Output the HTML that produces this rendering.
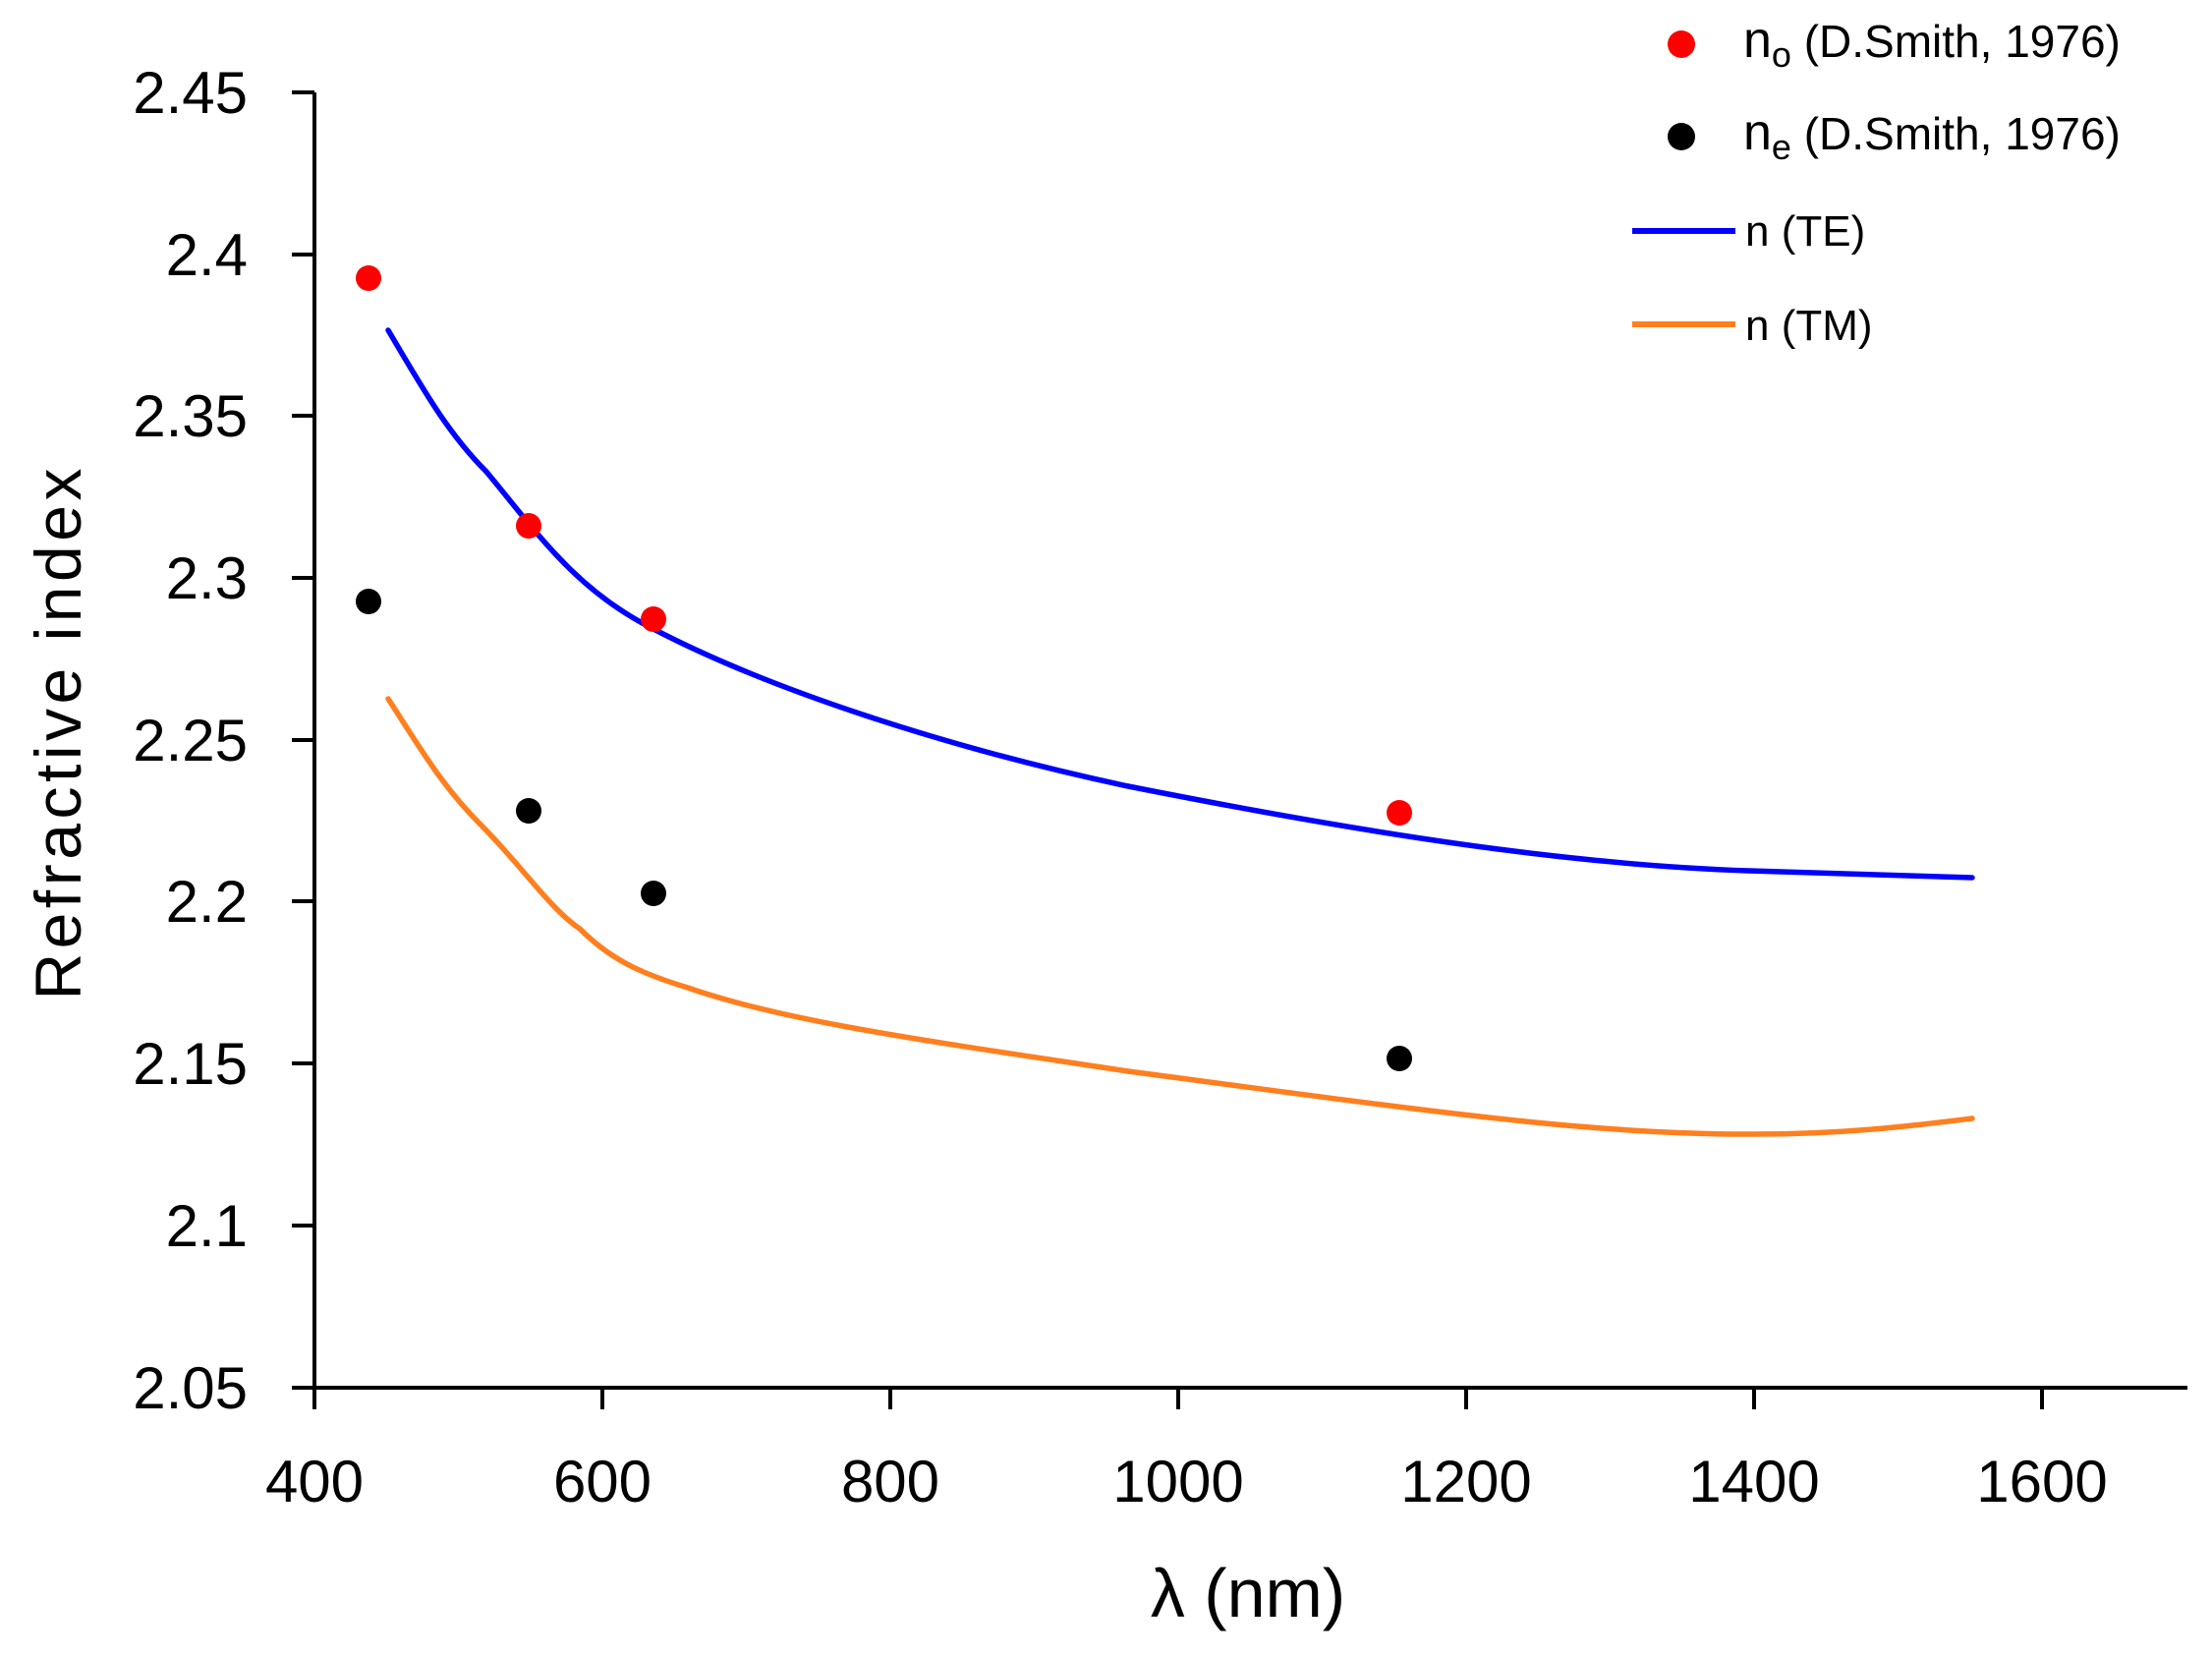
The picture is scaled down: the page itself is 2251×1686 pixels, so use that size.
<!DOCTYPE html>
<html><head><meta charset="utf-8"><style>html,body{margin:0;padding:0;background:#fff}</style></head>
<body>
<svg width="2251" height="1681" viewBox="0 0 2251 1681" xmlns="http://www.w3.org/2000/svg" font-family="'Liberation Sans', sans-serif">
<g stroke="#000" stroke-width="4" fill="none">
<line x1="320" y1="94" x2="320" y2="1412"/>
<line x1="318" y1="1412" x2="2226" y2="1412"/>
<line x1="297" y1="94" x2="320" y2="94"/>
<line x1="297" y1="259" x2="320" y2="259"/>
<line x1="297" y1="423" x2="320" y2="423"/>
<line x1="297" y1="588" x2="320" y2="588"/>
<line x1="297" y1="753" x2="320" y2="753"/>
<line x1="297" y1="917" x2="320" y2="917"/>
<line x1="297" y1="1082" x2="320" y2="1082"/>
<line x1="297" y1="1247" x2="320" y2="1247"/>
<line x1="297" y1="1412" x2="320" y2="1412"/>
<line x1="320" y1="1412" x2="320" y2="1434"/>
<line x1="613" y1="1412" x2="613" y2="1434"/>
<line x1="906" y1="1412" x2="906" y2="1434"/>
<line x1="1199" y1="1412" x2="1199" y2="1434"/>
<line x1="1492" y1="1412" x2="1492" y2="1434"/>
<line x1="1785" y1="1412" x2="1785" y2="1434"/>
<line x1="2078" y1="1412" x2="2078" y2="1434"/>
</g>
<g font-size="60" text-anchor="end" fill="#000">
<text x="252" y="115">2.45</text>
<text x="252" y="280">2.4</text>
<text x="252" y="444">2.35</text>
<text x="252" y="609">2.3</text>
<text x="252" y="774">2.25</text>
<text x="252" y="938">2.2</text>
<text x="252" y="1103">2.15</text>
<text x="252" y="1268">2.1</text>
<text x="252" y="1433">2.05</text>
</g>
<g font-size="60" text-anchor="middle" fill="#000">
<text x="320" y="1528">400</text>
<text x="613" y="1528">600</text>
<text x="906" y="1528">800</text>
<text x="1199" y="1528">1000</text>
<text x="1492" y="1528">1200</text>
<text x="1785" y="1528">1400</text>
<text x="2078" y="1528">1600</text>
</g>
<text x="1270" y="1645" font-size="70" text-anchor="middle">λ (nm)</text>
<text transform="translate(82,747) rotate(-90)" font-size="66" text-anchor="middle" textLength="541">Refractive index</text>
<path fill="none" stroke="#0000ff" stroke-width="5.5" stroke-linecap="round" d="M395,336 C430,395 455,440 495,480 C545,540 585,600 665,640 C780,700 960,760 1148,800 C1400,850 1600,880 1780,886 C1900,890 1960,892 2007,893"/>
<path fill="none" stroke="#ff7f1e" stroke-width="5.5" stroke-linecap="round" d="M395,711 C430,765 450,800 490,840 C530,880 560,925 590,945 C620,975 650,990 700,1005 C800,1040 950,1060 1148,1090 C1450,1130 1620,1155 1785,1154 C1880,1154 1950,1145 2007,1138"/>
<g fill="#ff0000">
<circle cx="375" cy="283" r="13"/><circle cx="538" cy="535" r="13"/><circle cx="665" cy="630" r="13"/><circle cx="1424" cy="827" r="13"/>
</g>
<g fill="#000">
<circle cx="375" cy="612" r="13"/><circle cx="538" cy="825" r="13"/><circle cx="665" cy="909" r="13"/><circle cx="1424" cy="1077" r="13"/>
</g>
<circle cx="1711" cy="45" r="14" fill="#ff0000"/>
<circle cx="1711" cy="139" r="14" fill="#000"/>
<line x1="1661" y1="235" x2="1766" y2="235" stroke="#0000ff" stroke-width="6"/>
<line x1="1661" y1="330" x2="1766" y2="330" stroke="#ff7f1e" stroke-width="6"/>
<g fill="#000">
<text x="1774" y="58" font-size="52">n<tspan font-size="36" dy="10">o</tspan><tspan font-size="46" dy="-10"> (D.Smith, 1976)</tspan></text>
<text x="1774" y="152" font-size="52">n<tspan font-size="36" dy="10">e</tspan><tspan font-size="46" dy="-10"> (D.Smith, 1976)</tspan></text>
<text x="1776" y="250" font-size="44">n (TE)</text>
<text x="1776" y="346" font-size="44">n (TM)</text>
</g>
</svg>
</body></html>
